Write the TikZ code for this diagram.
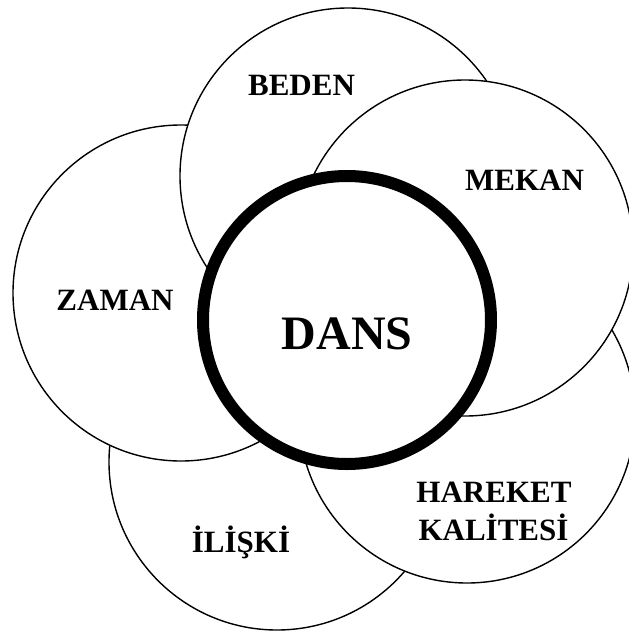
\documentclass[tikz,border=0pt]{standalone}
\usepackage{fontspec}
\setmainfont{Liberation Serif}
\begin{document}
\begin{tikzpicture}[x=1pt,y=-1pt,
  petal/.style={circle,draw=black,fill=white,line width=1.4pt,minimum size=336pt,inner sep=0pt},
  core/.style={circle,draw=black,fill=white,line width=12pt,minimum size=288pt,inner sep=0pt},
  lbl/.style={inner sep=0pt,anchor=base,font=\bfseries\fontsize{31}{37}\selectfont},
  biglbl/.style={inner sep=0pt,anchor=base,font=\bfseries\fontsize{48}{56}\selectfont}]
\useasboundingbox (0,0) rectangle (629,632);
\node[petal] (iliski) at (277,462) {};
\node[petal] (zaman) at (181,293) {};
\node[petal] (hareket) at (467,415) {};
\node[petal] (beden) at (348,176) {};
\node[petal] (mekan) at (465,248) {};
\node[core] (dans) at (347,320) {};
\node[lbl] (tbeden) at (301.5,95) {BEDEN};
\node[lbl] (tmekan) at (524.5,190) {MEKAN};
\node[lbl] (tzaman) at (115,310) {ZAMAN};
\node[biglbl] (tdans) at (347.3,349) {DANS};
\node[lbl] (thareket) at (494,502) {HAREKET};
\node[lbl] (tkalite) at (493.5,540) {KALİTESİ};
\node[lbl] (tiliski) at (241,552) {İLİŞKİ};
\end{tikzpicture}
\end{document}
